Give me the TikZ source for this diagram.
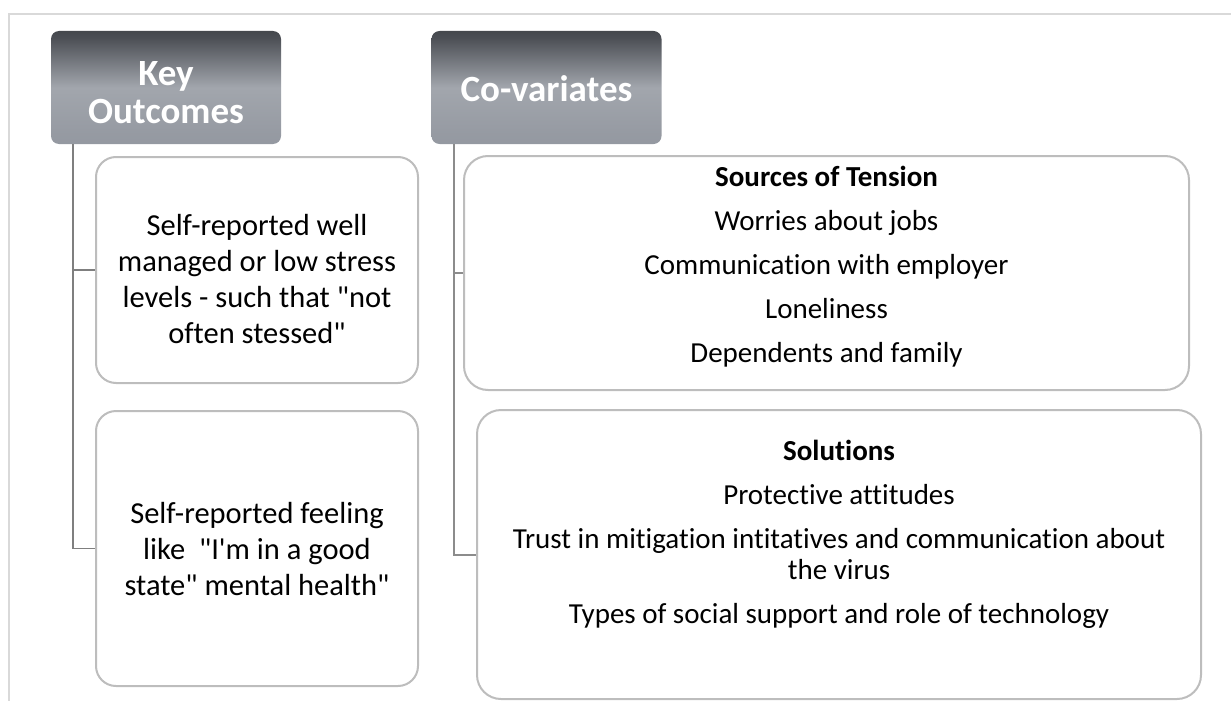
\documentclass[tikz,border=0pt]{standalone}
\usepackage{fontspec}
\setmainfont{Carlito}[Ligatures={TeXOff,CommonOff}]
\definecolor{hdtop}{HTML}{0A0A0A}
\definecolor{hdmid}{HTML}{4C4F55}
\definecolor{hdlight}{HTML}{A2A6AD}
\definecolor{hdbot}{HTML}{8A8F98}
\definecolor{boxline}{HTML}{BDBDBD}
\definecolor{frameline}{HTML}{D9D9D9}
\definecolor{connA}{HTML}{7F7F7F}
\definecolor{connB}{HTML}{8C8C8C}
\pgfdeclareverticalshading{hdrshade}{100bp}{color(0bp)=(hdbot); color(30bp)=(hdbot!50!hdlight); color(50bp)=(hdlight); color(72bp)=(hdmid); color(100bp)=(hdtop)}
\tikzset{
  header/.style={shading=hdrshade, rounded corners=8pt, minimum width=230pt, minimum height=113pt,
    inner sep=0pt},
  headtext/.style={text=white, align=center, inner sep=0pt, font=\fontsize{37}{38}\selectfont\bfseries},
  abox/.style={draw=boxline, line width=2pt, rounded corners=20pt, fill=white, inner sep=0pt},
  bbox/.style={draw=boxline, line width=2pt, rounded corners=24pt, fill=white, inner sep=0pt},
  atext/.style={align=center, inner sep=0pt, font=\fontsize{30.5}{36}\selectfont},
  btext/.style={align=center, inner sep=0pt, font=\fontsize{29}{44}\selectfont},
  frame/.style={draw=frameline, line width=2pt},
  connectorA/.style={draw=connA, line width=1.2pt},
  connectorB/.style={draw=connB, line width=2pt}
}
\begin{document}
\begin{tikzpicture}[x=1pt,y=-1pt]
\useasboundingbox (0,0) rectangle (1231,701);
% frame
\coordinate (fbl) at (9,702);
\coordinate (ftr) at (1232,14);
\draw[frame] (fbl) |- (ftr);
% headers
\node[header] (h1) at (166,87.5) {};
\node[header] (h2) at (546.5,87.5) {};
\node[headtext] (h1t) at (166,93) {Key\\Outcomes};
\node[headtext] (h2t) at (546.5,89) {Co-variates};
% boxes
\node[abox, minimum width=322pt, minimum height=226pt] (a1) at (257,270) {};
\node[abox, minimum width=322pt, minimum height=275pt] (a2) at (257,548.5) {};
\node[bbox, minimum width=725pt, minimum height=234pt] (b1) at (826.5,273) {};
\node[bbox, minimum width=724pt, minimum height=289pt] (b2) at (839,554.5) {};
% texts
\node[atext] (a1t) at (257,279) {Self-reported well\\managed or low stress\\levels - such that "not\\often stessed"};
\node[atext] (a2t) at (257,549) {Self-reported feeling\\like \ "I'm in a good\\state" mental health"};
\node[btext] (b1t) at (826.5,267) {\textbf{Sources of Tension}\\Worries about jobs\\Communication with employer\\Loneliness\\Dependents and family};
\node[btext, font=\fontsize{29}{31}\selectfont] (b2t) at (839,534) {\textbf{Solutions}\\[13pt]Protective attitudes\\[13pt]Trust in mitigation intitatives and communication about\\the virus\\[13pt]Types of social support and role of technology};
% connectors
\coordinate (ca) at (73,144);
\coordinate (cb) at (454,144);
\draw[connectorA] (ca) |- (a1.west);
\draw[connectorA] (ca) |- (a2.west);
\draw[connectorB] (cb) |- (b1.west);
\draw[connectorB] (cb) |- (b2.west);
\end{tikzpicture}
\end{document}
